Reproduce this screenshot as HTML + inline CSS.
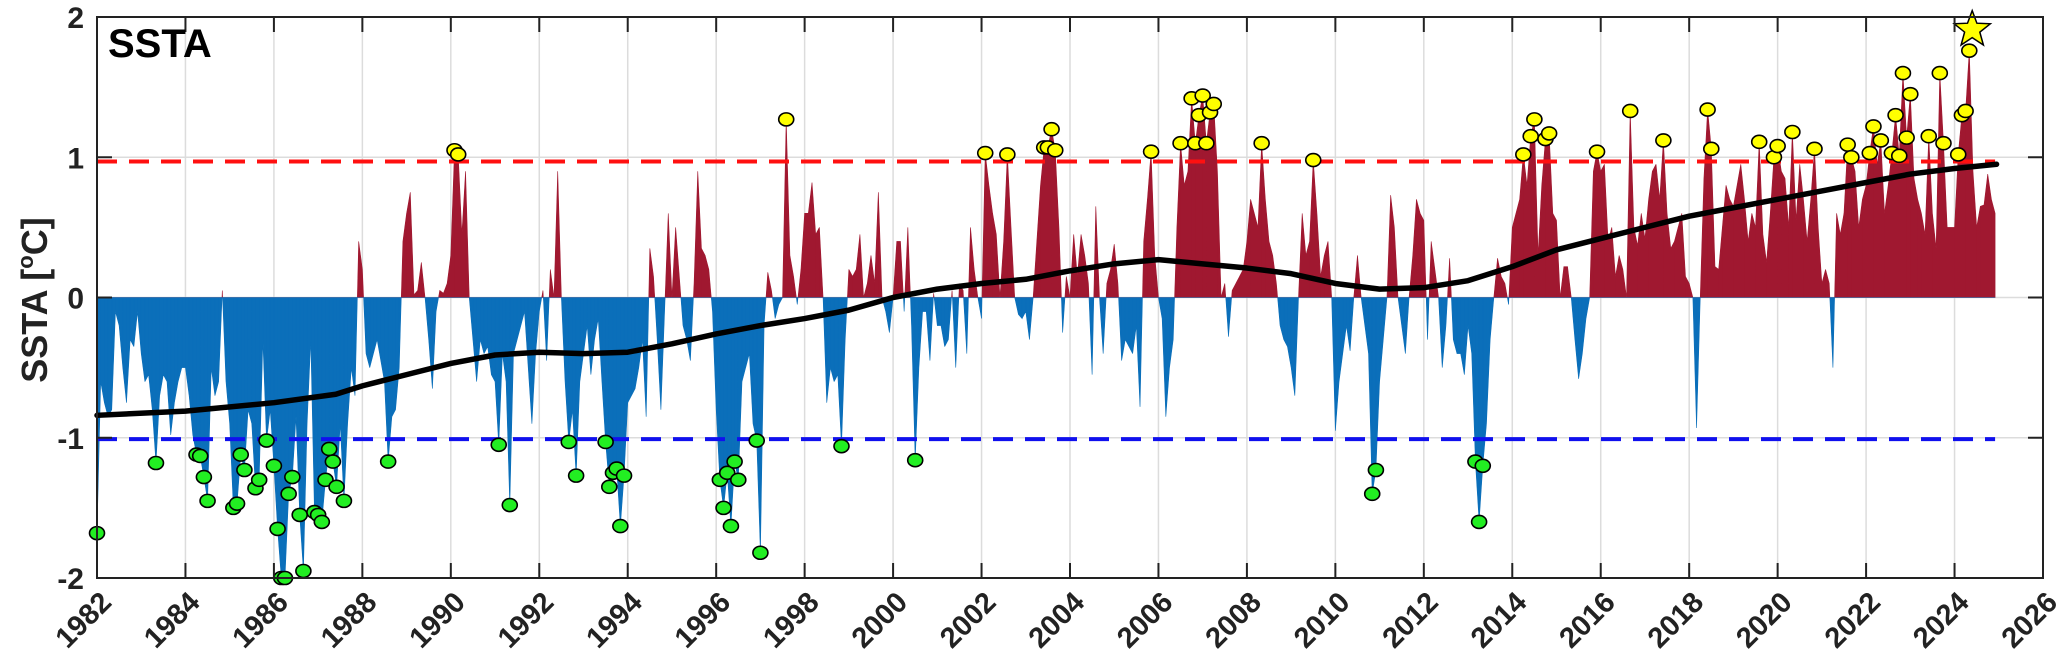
<!DOCTYPE html>
<html><head><meta charset="utf-8"><style>
html,body{margin:0;padding:0;background:#fff;}
svg{display:block;font-family:"Liberation Sans",Arial,sans-serif;}
</style></head><body>
<svg id="chart" width="2067" height="666" viewBox="0 0 2067 666" xmlns="http://www.w3.org/2000/svg">
<g id="grid"></g>
<g id="areas"></g>
<g id="thresholds"></g>
<g id="trend"></g>
<g id="markers"></g>
<g id="axes"></g>
<text x="108" y="57" font-size="40" font-weight="bold">SSTA</text>
<text transform="translate(47,300) rotate(-90)" text-anchor="middle" font-size="36" font-weight="bold" fill="#222">SSTA [<tspan font-size="22" dy="-14">o</tspan><tspan dy="14">C]</tspan></text>
</svg>
<script>
const startYear = 1982;
const sstaValues = [
-1.68,-0.6,-0.75,-0.85,-0.8,-0.1,-0.2,-0.5,-0.75,-0.3,-0.35,-0.1,
-0.4,-0.6,-0.55,-0.8,-1.18,-0.7,-0.55,-0.6,-0.98,-0.75,-0.6,-0.5,
-0.5,-0.7,-0.98,-1.12,-1.13,-1.28,-1.45,-0.5,-0.7,-0.6,0.05,-0.6,
-0.9,-1.5,-1.47,-1.12,-1.23,-0.8,-0.9,-1.36,-1.3,-0.3,-1.02,-0.8,
-1.2,-1.65,-2.0,-2.0,-1.4,-1.28,-0.85,-1.55,-1.95,-0.9,-0.3,-1.53,
-1.55,-1.6,-1.3,-1.08,-1.17,-1.35,-0.9,-1.45,-0.9,-0.5,-0.7,0.4,
0.2,-0.4,-0.5,-0.4,-0.3,-0.45,-0.6,-1.17,-0.85,-0.8,-0.5,0.4,
0.6,0.75,0.02,0.05,0.25,0.0,-0.3,-0.65,-0.1,0.05,0.03,0.1,
0.3,1.05,1.02,0.45,0.9,0.0,-0.3,-0.6,-0.3,-0.4,-0.35,-0.55,
-0.6,-1.05,-0.4,-0.6,-1.48,-0.4,-0.3,-0.2,-0.1,-0.5,-0.9,-0.4,
-0.1,0.05,-0.45,0.2,0.0,0.9,0.0,-0.6,-1.03,-0.8,-1.27,-0.6,
-0.4,-0.2,-0.55,-0.3,-0.15,-0.6,-1.03,-1.35,-1.25,-1.22,-1.63,-1.27,
-0.75,-0.7,-0.65,-0.5,-0.3,-0.85,0.35,0.15,-0.3,-0.8,-0.1,0.6,
0.0,0.5,0.15,-0.2,-0.3,-0.45,0.1,0.9,0.35,0.3,0.2,-0.1,
-0.8,-1.3,-1.5,-1.25,-1.63,-1.17,-1.3,-0.6,-0.5,-0.4,-0.9,-1.02,
-1.82,-0.2,0.18,0.05,-0.15,-0.05,0.0,1.27,0.3,0.15,-0.05,0.2,
0.6,0.6,0.82,0.45,0.5,0.0,-0.75,-0.5,-0.6,-0.55,-1.06,-0.3,
0.2,0.15,0.2,0.45,0.0,0.1,0.3,0.1,0.75,0.0,-0.1,-0.25,
0.0,0.4,0.4,-0.1,0.5,-0.2,-1.16,-0.5,-0.1,-0.1,-0.45,0.03,
-0.2,-0.2,-0.35,-0.3,0.05,-0.5,0.1,0.05,-0.4,0.5,0.2,0.0,
-0.15,1.03,0.8,0.6,0.45,0.0,0.4,1.02,0.5,0.0,-0.12,-0.15,
-0.1,-0.3,0.0,0.4,0.8,1.07,1.07,1.2,1.05,0.5,-0.25,0.15,
0.0,0.45,0.15,0.45,0.3,0.1,-0.55,0.65,0.0,-0.4,0.1,0.2,
0.38,0.1,-0.45,-0.3,-0.35,-0.4,-0.2,-0.78,0.4,0.7,1.04,0.3,
0.0,-0.15,-0.85,-0.5,-0.3,0.5,1.1,0.8,0.9,1.42,1.1,1.3,
1.44,1.1,1.32,1.38,0.9,0.0,0.1,-0.28,0.05,0.1,0.15,0.2,
0.4,0.7,0.6,0.5,1.1,0.7,0.4,0.3,0.1,-0.2,-0.3,-0.35,
-0.5,-0.7,0.0,0.6,0.3,0.4,0.98,0.6,0.15,0.3,0.4,0.0,
-0.95,-0.6,-0.4,-0.2,-0.38,0.0,0.3,0.0,-0.2,-0.4,-1.4,-1.23,
-0.6,-0.3,0.0,0.73,0.5,0.0,-0.2,-0.4,0.0,0.3,0.7,0.6,
0.55,-0.3,0.4,0.2,0.0,-0.5,-0.2,0.28,-0.3,-0.4,-0.4,-0.55,
-0.2,-0.4,-1.17,-1.6,-1.2,-0.9,-0.3,0.0,0.28,0.15,0.1,-0.05,
0.5,0.6,0.7,1.02,0.8,1.15,1.27,0.3,0.8,1.13,1.17,0.6,
0.55,0.0,0.22,0.22,0.0,-0.3,-0.58,-0.4,-0.15,0.0,0.9,1.04,
0.9,0.95,0.4,0.5,0.15,0.3,0.2,0.0,1.33,0.5,0.37,0.6,
0.42,0.7,0.9,0.95,0.7,1.12,0.6,0.35,0.4,0.5,0.6,0.15,
0.1,0.0,-0.93,0.0,0.85,1.34,1.06,0.22,0.2,0.5,0.8,0.7,
0.65,0.8,0.95,0.7,0.4,0.6,0.5,1.11,0.45,0.25,0.6,1.0,
1.08,0.9,0.85,0.5,1.18,0.55,0.95,0.7,0.4,0.7,1.06,0.5,
0.1,0.2,0.1,-0.5,0.6,0.45,0.6,1.09,1.0,0.9,0.5,0.7,
0.8,1.03,1.22,0.95,1.12,0.6,0.8,1.03,1.3,1.01,1.6,1.14,
1.45,0.85,0.7,0.6,0.45,1.15,0.6,0.35,1.6,1.1,0.5,0.5,
0.5,1.02,1.3,1.33,1.76,0.9,0.5,0.65,0.66,0.88,0.7,0.6
];
const trendYears = [1982,1984,1986,1987.4,1988,1989,1990,1991,1992,1993,1994,1995,1996,1997,1998,1999,2000,2001,2002,2003,2004,2005,2006,2007,2008,2009,2010,2011,2012,2013,2014,2015,2016,2017,2018,2019,2020,2021,2022,2023,2024,2024.95];
const trendValues = [-0.84,-0.81,-0.75,-0.69,-0.63,-0.55,-0.47,-0.41,-0.39,-0.4,-0.39,-0.33,-0.26,-0.2,-0.15,-0.09,0.0,0.06,0.1,0.13,0.19,0.24,0.27,0.24,0.21,0.17,0.1,0.06,0.07,0.12,0.22,0.34,0.42,0.5,0.58,0.64,0.7,0.76,0.82,0.88,0.92,0.95];
const upperThreshold = 0.97;
const lowerThreshold = -1.01;
const xTickYears = [1982,1984,1986,1988,1990,1992,1994,1996,1998,2000,2002,2004,2006,2008,2010,2012,2014,2016,2018,2020,2022,2024,2026];
const yTickValues = [2,1,0,-1,-2];
const recordYear = 2024.4;
const recordValue = 1.91;

const NS = "http://www.w3.org/2000/svg";
const L = 97, R = 2043, T = 17, B = 578;
const X = yr => L + (yr - 1982) / 44 * (R - L);
const Y = v => T + (2 - v) / 4 * (B - T);
const dataEnd = X(startYear + (sstaValues.length - 1) / 12);
function mk(tag, attrs, parent) {
  const e = document.createElementNS(NS, tag);
  for (const k in attrs) e.setAttribute(k, attrs[k]);
  parent.appendChild(e); return e;
}
const grid = document.getElementById('grid');
xTickYears.forEach(yr => {
  const l = mk('line', {x1: X(yr), x2: X(yr), y1: T, y2: B, stroke: '#dcdcdc', 'stroke-width': 1.5}, grid);
  
  
});
yTickValues.forEach(v => {
  const l = mk('line', {x1: L, x2: R, y1: Y(v), y2: Y(v), stroke: '#dcdcdc', 'stroke-width': 1.5}, grid);
  
  
});

const areas = document.getElementById('areas');
const pts = sstaValues.map((v, i) => [X(startYear + i / 12), v]);
function buildArea(sign) {
  let d = '';
  const y0 = Y(0);
  for (let i = 0; i < pts.length - 1; i++) {
    const [x1, v1] = pts[i], [x2, v2] = pts[i + 1];
    const a = sign > 0 ? Math.max(v1, 0) : Math.min(v1, 0);
    const b = sign > 0 ? Math.max(v2, 0) : Math.min(v2, 0);
    if ((v1 > 0) !== (v2 > 0) && v1 !== v2) {
      const xc = x1 + (x2 - x1) * (v1 / (v1 - v2));
      d += `M${x1},${y0}L${x1},${Y(a)}L${xc},${y0}L${x2},${Y(b)}L${x2},${y0}Z`;
    } else {
      d += `M${x1},${y0}L${x1},${Y(a)}L${x2},${Y(b)}L${x2},${y0}Z`;
    }
  }
  return d;
}
const pos = mk('path', {d: buildArea(1), fill: '#a01830', stroke: '#a01830', 'stroke-width': 0.6}, areas);


const neg = mk('path', {d: buildArea(-1), fill: '#0b6fba', stroke: '#0b6fba', 'stroke-width': 0.6}, areas);



const th = document.getElementById('thresholds');
const tu = mk('line', {x1: L, x2: dataEnd, y1: Y(upperThreshold), y2: Y(upperThreshold), stroke: '#ff1010', 'stroke-width': 4, 'stroke-dasharray': '20 12'}, th);


const tl = mk('line', {x1: L, x2: dataEnd, y1: Y(lowerThreshold), y2: Y(lowerThreshold), stroke: '#1010ee', 'stroke-width': 4, 'stroke-dasharray': '20 12'}, th);



const tr = document.getElementById('trend');
const tp = mk('polyline', {points: trendYears.map((yr, i) => X(yr) + ',' + Y(trendValues[i])).join(' '), fill: 'none', stroke: '#000', 'stroke-width': 5.5, 'stroke-linejoin': 'round', 'stroke-linecap': 'round'}, tr);



const mg = document.getElementById('markers');
sstaValues.forEach((v, i) => {
  if (v >= upperThreshold || v <= lowerThreshold) {
    const c = mk('ellipse', {cx: X(startYear + i / 12), cy: Y(v), rx: 7.5, ry: 6.5, fill: v > 0 ? '#ffff00' : '#22ee22', stroke: '#000', 'stroke-width': 1.6}, mg);
    
    
  }
});
{
  const cx = X(recordYear), cy = Y(recordValue), ro = 19, ri = 8;
  let p = [];
  for (let k = 0; k < 10; k++) {
    const a = -Math.PI / 2 + k * Math.PI / 5, r = k % 2 ? ri : ro;
    p.push((cx + r * Math.cos(a)).toFixed(1) + ',' + (cy + r * Math.sin(a)).toFixed(1));
  }
  const s = mk('polygon', {points: p.join(' '), fill: '#ffff00', stroke: '#000', 'stroke-width': 1.5}, mg);
  
  
}

const ax = document.getElementById('axes');
const box = mk('rect', {x: L, y: T, width: R - L, height: B - T, fill: 'none', stroke: '#222', 'stroke-width': 2}, ax);


xTickYears.forEach(yr => {
  mk('line', {x1: X(yr), x2: X(yr), y1: B, y2: B - 15, stroke: '#222', 'stroke-width': 2}, ax);
  mk('line', {x1: X(yr), x2: X(yr), y1: T, y2: T + 15, stroke: '#222', 'stroke-width': 2}, ax);
  const t = mk('text', {x: 0, y: 0, 'font-size': 29, 'font-weight': 'bold', fill: '#222', 'text-anchor': 'end', transform: `translate(${X(yr) + 16},${B + 26}) rotate(-45)`}, ax);
  t.textContent = yr;
  
  
});
yTickValues.forEach(v => {
  mk('line', {x1: L, x2: L + 15, y1: Y(v), y2: Y(v), stroke: '#222', 'stroke-width': 2}, ax);
  mk('line', {x1: R, x2: R - 15, y1: Y(v), y2: Y(v), stroke: '#222', 'stroke-width': 2}, ax);
  const t = mk('text', {x: 84, y: Y(v) + 11, 'font-size': 30, 'font-weight': 'bold', fill: '#222', 'text-anchor': 'end'}, ax);
  t.textContent = v;
  
  
});
</script>
</body></html>
